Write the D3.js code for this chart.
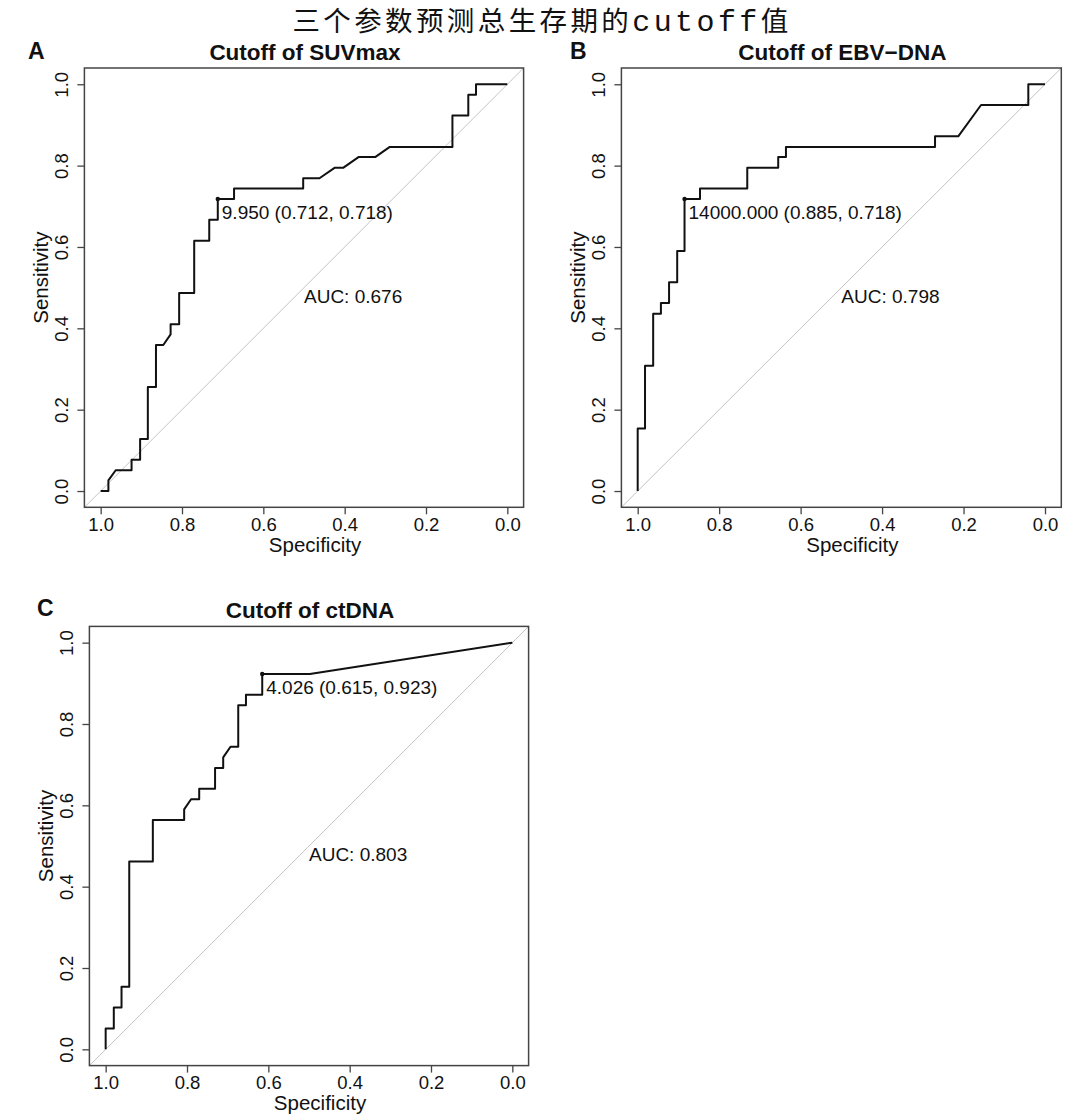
<!DOCTYPE html>
<html>
<head>
<meta charset="utf-8">
<script src="https://cdn.jsdelivr.net/npm/d3@7"></script>
<style>
  html, body { margin: 0; padding: 0; background: #fff; }
  svg { display: block; }
  text { font-family: "Liberation Sans", Arial, sans-serif; fill: #111; }
</style>
</head>
<body>
<svg id="chart" width="1080" height="1117"></svg>
<script>
// ---------- data ----------
const chartTitle = ["三个参数预测总生存期的", "cutoff", "值"];
const panelLetters = ["A", "B", "C"];
const panelTitles = ["Cutoff of SUVmax", "Cutoff of EBV\u2212DNA", "Cutoff of ctDNA"];
const xAxisTitle = "Specificity";
const yAxisTitle = "Sensitivity";
const tickValues = [0, 0.2, 0.4, 0.6, 0.8, 1.0];

// Panel A: SUVmax
const specA = [1.000,0.981,0.981,0.963,0.924,0.924,0.903,0.903,0.884,0.884,0.864,0.864,0.846,0.828,0.828,0.807,0.807,0.770,0.770,0.733,0.733,0.712,0.712,0.672,0.672,0.502,0.502,0.462,0.424,0.403,0.366,0.325,0.289,0.135,0.135,0.096,0.096,0.077,0.077,0.000];
const sensA = [0,0,0.026,0.051,0.051,0.077,0.077,0.128,0.128,0.256,0.256,0.359,0.359,0.385,0.410,0.410,0.487,0.487,0.615,0.615,0.667,0.667,0.718,0.718,0.744,0.744,0.769,0.769,0.795,0.795,0.821,0.821,0.846,0.846,0.923,0.923,0.974,0.974,1.0,1.0];
const cutoffA = {threshold: "9.950", spec: 0.712, sens: 0.718};
const aucA = 0.676;

// Panel B: EBV-DNA
const specB = [1.0,1.0,0.982,0.982,0.962,0.962,0.943,0.943,0.923,0.923,0.903,0.903,0.885,0.885,0.847,0.847,0.731,0.731,0.655,0.655,0.636,0.636,0.270,0.270,0.213,0.157,0.041,0.041,0.0];
const sensB = [0,0.154,0.154,0.308,0.308,0.436,0.436,0.462,0.462,0.513,0.513,0.590,0.590,0.718,0.718,0.744,0.744,0.795,0.795,0.821,0.821,0.846,0.846,0.872,0.872,0.949,0.949,1.0,1.0];
const cutoffB = {threshold: "14000.000", spec: 0.885, sens: 0.718};
const aucB = 0.798;

// Panel C: ctDNA
const specC = [1.0,1.0,0.980,0.980,0.961,0.961,0.942,0.942,0.884,0.884,0.807,0.807,0.790,0.770,0.770,0.731,0.731,0.711,0.711,0.693,0.674,0.674,0.655,0.655,0.615,0.615,0.498,0.0];
const sensC = [0,0.051,0.051,0.103,0.103,0.154,0.154,0.462,0.462,0.564,0.564,0.590,0.615,0.615,0.641,0.641,0.692,0.692,0.718,0.744,0.744,0.846,0.846,0.872,0.872,0.923,0.923,1.0];
const cutoffC = {threshold: "4.026", spec: 0.615, sens: 0.923};
const aucC = 0.803;

// ---------- layout ----------
const svg = d3.select("#chart");
const fmt3 = d3.format(".3f");
const fmt1 = d3.format(".1f");

// title
const t = svg.append("text")
  .attr("x", 542).attr("y", 31)
  .attr("text-anchor", "middle")
  .style("font-size", "27.5px")
  .style("letter-spacing", "3.4px")
  .style("font-family", "'Noto Sans CJK SC', sans-serif");
t.append("tspan").text(chartTitle[0]);
t.append("tspan").style("font-family", "'Liberation Mono', monospace").style("font-size", "30px").text(chartTitle[1]);
t.append("tspan").text(chartTitle[2]);

const panels = [
  {spec: specA, sens: sensA, cut: cutoffA, auc: aucA, left: 84.4, top: 68, w: 439.2, h: 439.3, letterX: 28, letterY: 59},
  {spec: specB, sens: sensB, cut: cutoffB, auc: aucB, left: 621.4, top: 68, w: 439.9, h: 439.3, letterX: 570, letterY: 59},
  {spec: specC, sens: sensC, cut: cutoffC, auc: aucC, left: 89.4, top: 626.4, w: 439.2, h: 439.2, letterX: 37, letterY: 616}
];

panels.forEach((p, i) => {
  const x = d3.scaleLinear().domain([1.04, -0.04]).range([p.left, p.left + p.w]);
  const y = d3.scaleLinear().domain([-0.04, 1.04]).range([p.top + p.h, p.top]);
  const g = svg.append("g");

  // diagonal reference line
  g.append("line")
    .attr("x1", x(1.04)).attr("y1", y(-0.04))
    .attr("x2", x(-0.04)).attr("y2", y(1.04))
    .attr("stroke", "#c4c4c4").attr("stroke-width", 1);

  // ROC curve
  const pts = p.spec.map((s, k) => [s, p.sens[k]]);
  g.append("path")
    .datum(pts)
    .attr("fill", "none")
    .attr("stroke", "#111")
    .attr("stroke-width", 2)
    .attr("stroke-linejoin", "round")
    .attr("d", d3.line().x(d => x(d[0])).y(d => y(d[1])));

  // cutoff point and label
  g.append("circle")
    .attr("cx", x(p.cut.spec)).attr("cy", y(p.cut.sens))
    .attr("r", 2.2).attr("fill", "#111");
  g.append("text")
    .attr("x", x(p.cut.spec) + 4).attr("y", y(p.cut.sens) + 20)
    .style("font-size", "19px")
    .text(`${p.cut.threshold} (${fmt3(p.cut.spec)}, ${fmt3(p.cut.sens)})`);

  // AUC
  g.append("text")
    .attr("x", x(0.5)).attr("y", y(0.5) + 15)
    .style("font-size", "19px")
    .text(`AUC: ${fmt3(p.auc)}`);

  // box
  g.append("rect")
    .attr("x", p.left).attr("y", p.top)
    .attr("width", p.w).attr("height", p.h)
    .attr("fill", "none").attr("stroke", "#444").attr("stroke-width", 1.5);

  // x axis
  const xa = g.append("g")
    .attr("transform", `translate(0,${p.top + p.h})`)
    .call(d3.axisBottom(x).tickValues(tickValues).tickFormat(fmt1).tickSize(7).tickPadding(5));
  xa.select(".domain").remove();
  xa.selectAll(".tick line").attr("stroke", "#444").attr("stroke-width", 1.3);
  xa.selectAll(".tick text")
    .attr("y", 23.7).attr("dy", 0)
    .style("font-size", "18.5px").style("font-family", "'Liberation Sans', Arial, sans-serif").attr("fill", "#111");

  // y axis
  const ya = g.append("g")
    .attr("transform", `translate(${p.left},0)`)
    .call(d3.axisLeft(y).tickValues(tickValues).tickFormat(fmt1).tickSize(7));
  ya.select(".domain").remove();
  ya.selectAll(".tick line").attr("stroke", "#444").attr("stroke-width", 1.3);
  ya.selectAll(".tick text")
    .attr("x", 0).attr("dy", 0)
    .attr("text-anchor", "middle")
    .attr("transform", "translate(-16.5,0) rotate(-90)")
    .style("font-size", "18.5px").style("font-family", "'Liberation Sans', Arial, sans-serif").attr("fill", "#111");

  // axis titles
  g.append("text")
    .attr("x", p.left + p.w / 2 + 11).attr("y", p.top + p.h + 44.7)
    .attr("text-anchor", "middle")
    .style("font-size", "20.5px")
    .text(xAxisTitle);
  g.append("text")
    .attr("transform", `translate(${p.left - 36},${p.top + p.h / 2 - 10}) rotate(-90)`)
    .attr("text-anchor", "middle")
    .style("font-size", "20.5px")
    .text(yAxisTitle);

  // panel title
  g.append("text")
    .attr("x", p.left + p.w / 2 + 1).attr("y", p.top - 8)
    .attr("text-anchor", "middle")
    .style("font-size", "22.5px").style("font-weight", "bold")
    .text(panelTitles[i]);

  // panel letter
  g.append("text")
    .attr("x", p.letterX).attr("y", p.letterY)
    .style("font-size", "23px").style("font-weight", "bold")
    .text(panelLetters[i]);
});
</script>
</body>
</html>
